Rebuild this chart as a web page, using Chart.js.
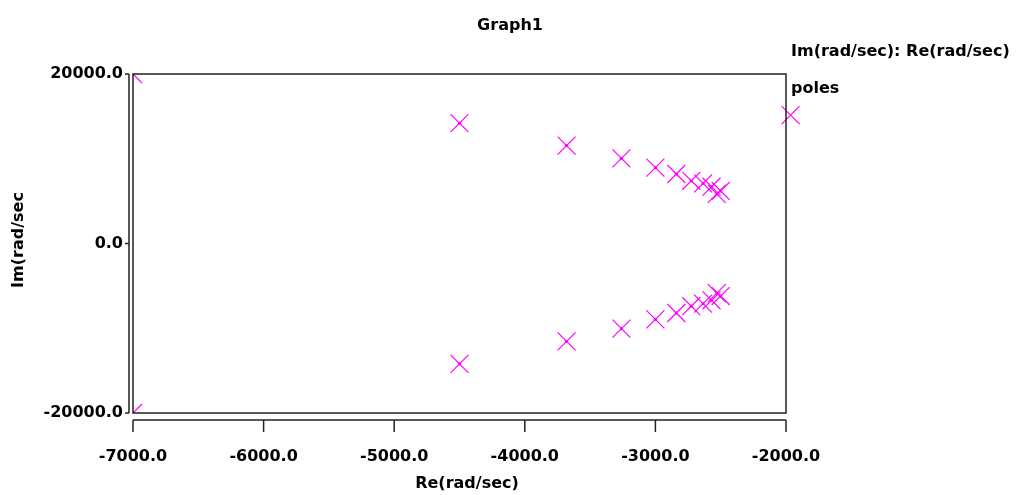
<!DOCTYPE html>
<html>
<head>
<meta charset="utf-8">
<script src="https://cdn.jsdelivr.net/npm/chart.js@4/dist/chart.umd.min.js"></script>
<style>
  html, body { margin: 0; padding: 0; background: #fff; }
</style>
</head>
<body>
<canvas id="graph" width="1018" height="495"></canvas>
<script>
// pole locations
const poleRe = [-4500, -3680, -3260, -3000, -2840, -2725, -2635, -2570, -2500, -2530,
                -4500, -3680, -3260, -3000, -2840, -2725, -2635, -2570, -2500, -2530,
                -1965, -7000, -7000];
const poleIm = [14200, 11550, 10050, 8950, 8200, 7400, 7100, 6700, 6200, 5850,
                -14200, -11550, -10050, -8950, -8200, -7400, -7100, -6700, -6200, -5850,
                15150, 20000, -20000];
const xTicks = [-7000, -6000, -5000, -4000, -3000, -2000];
const yTicks = [-20000, 0, 20000];

const FONT = 'bold 16px "DejaVu Sans"';
const MAGENTA = '#ff00ff';

function polePoints() {
    return poleRe.map((re, i) => ({ x: re, y: poleIm[i] }));
}

const axesPlugin = {
    id: 'axes',
    afterDraw(chart) {
        const ctx = chart.ctx;
        const a = chart.chartArea;
        const xs = chart.scales.x, ys = chart.scales.y;
        ctx.save();
        ctx.strokeStyle = '#222';
        ctx.fillStyle = '#000';
        ctx.lineWidth = 1.5;

        // plot frame
        ctx.strokeRect(a.left, a.top, a.right - a.left, a.bottom - a.top);

        // x axis, set a bit below the frame
        const xLine = a.bottom + 7;
        ctx.beginPath();
        ctx.moveTo(xs.getPixelForValue(xTicks[0]), xLine);
        ctx.lineTo(xs.getPixelForValue(xTicks[xTicks.length - 1]), xLine);
        xTicks.forEach(v => {
            const px = xs.getPixelForValue(v);
            ctx.moveTo(px, xLine);
            ctx.lineTo(px, xLine + 12);
        });
        ctx.stroke();

        // y axis, just left of the frame
        const yLine = a.left - 4;
        ctx.beginPath();
        ctx.moveTo(yLine, ys.getPixelForValue(yTicks[0]));
        ctx.lineTo(yLine, ys.getPixelForValue(yTicks[yTicks.length - 1]));
        yTicks.forEach(v => {
            const py = ys.getPixelForValue(v);
            ctx.moveTo(yLine, py);
            ctx.lineTo(yLine - 4, py);
        });
        ctx.stroke();

        ctx.font = FONT;
        ctx.textBaseline = 'alphabetic';
        ctx.textAlign = 'center';
        xTicks.forEach(v => {
            ctx.fillText(v.toFixed(1), xs.getPixelForValue(v), 461);
        });
        ctx.fillText('Re(rad/sec)', 467, 488);
        ctx.fillText('Graph1', 510, 30);

        ctx.textAlign = 'right';
        ctx.textBaseline = 'middle';
        yTicks.forEach(v => {
            ctx.fillText(v.toFixed(1), yLine - 6, ys.getPixelForValue(v));
        });

        ctx.save();
        ctx.translate(23, 240);
        ctx.rotate(-Math.PI / 2);
        ctx.textAlign = 'center';
        ctx.textBaseline = 'alphabetic';
        ctx.fillText('Im(rad/sec', 0, 0);
        ctx.restore();

        // legend
        ctx.textAlign = 'left';
        ctx.textBaseline = 'alphabetic';
        ctx.fillText('Im(rad/sec): Re(rad/sec)', 791, 56);
        ctx.fillText(chart.data.datasets[0].label, 791, 93);
        ctx.restore();
    }
};

const clipBox = { left: 0, top: 0, right: false, bottom: 0 };

new Chart(document.getElementById('graph'), {
    type: 'scatter',
    data: {
        datasets: [{
            label: 'poles',
            data: polePoints(),
            pointStyle: 'crossRot',
            pointRadius: 12.7,
            pointHoverRadius: 12.7,
            pointBorderWidth: 1.2,
            pointBorderColor: MAGENTA,
            pointBackgroundColor: MAGENTA,
            borderColor: MAGENTA,
            backgroundColor: MAGENTA,
            clip: clipBox
        }, {
            label: 'centres',
            data: polePoints(),
            pointStyle: 'circle',
            pointRadius: 1.6,
            pointHoverRadius: 1.6,
            pointBorderWidth: 0,
            pointBorderColor: MAGENTA,
            pointBackgroundColor: MAGENTA,
            borderColor: MAGENTA,
            backgroundColor: MAGENTA,
            clip: clipBox
        }]
    },
    options: {
        responsive: false,
        animation: false,
        events: [],
        devicePixelRatio: 1,
        layout: { padding: { left: 133, top: 74, right: 232, bottom: 82 } },
        plugins: { legend: { display: false }, tooltip: { enabled: false }, title: { display: false } },
        scales: {
            x: { type: 'linear', min: -7000, max: -2000, display: false },
            y: { type: 'linear', min: -20000, max: 20000, display: false }
        }
    },
    plugins: [axesPlugin]
});
</script>
</body>
</html>
